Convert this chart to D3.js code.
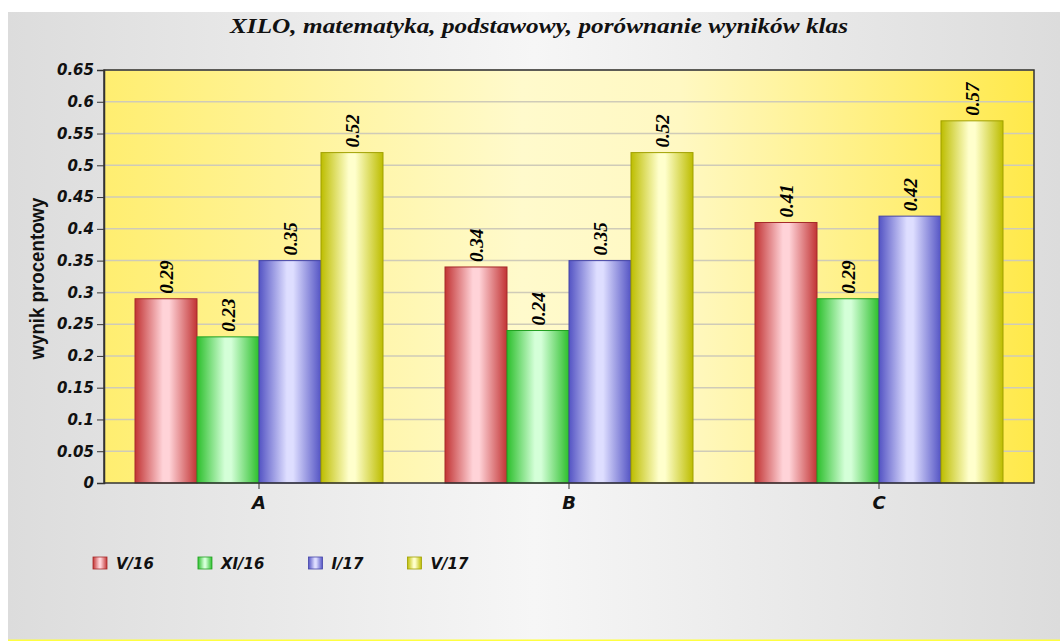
<!DOCTYPE html>
<html><head><meta charset="utf-8">
<script src="https://cdn.jsdelivr.net/npm/d3@7"></script>
<style>body{margin:0;background:#fff;} svg{display:block;}</style>
</head><body>
<svg id="c" width="1060" height="641"></svg>
<script>
const categories = ["A", "B", "C"];
const seriesNames = ["V/16", "XI/16", "I/17", "V/17"];
const valuesV16 = [0.29, 0.34, 0.41];
const valuesXI16 = [0.23, 0.24, 0.29];
const valuesI17 = [0.35, 0.35, 0.42];
const valuesV17 = [0.52, 0.52, 0.57];
const yTicks = [0, 0.05, 0.1, 0.15, 0.2, 0.25, 0.3, 0.35, 0.4, 0.45, 0.5, 0.55, 0.6, 0.65];
const titleText = "XILO, matematyka, podstawowy, porównanie wyników klas";
const yTitle = "wynik procentowy";

const series = [valuesV16, valuesXI16, valuesI17, valuesV17];
const colors = [
  {edge:"#c23434", mid:"#ffd3d8", stroke:"#a52a2a"},
  {edge:"#2cbf2c", mid:"#d4ffd8", stroke:"#22a022"},
  {edge:"#5454c4", mid:"#dedeff", stroke:"#4444a8"},
  {edge:"#bdbd00", mid:"#ffffcc", stroke:"#a0a000"}
];

const svg = d3.select("#c");
const defs = svg.append("defs");

const bg = defs.append("linearGradient").attr("id","bg").attr("x1","0").attr("x2","1").attr("y1","0").attr("y2","0");
bg.append("stop").attr("offset","0%").attr("stop-color","#dcdcdc");
bg.append("stop").attr("offset","50%").attr("stop-color","#f6f6f6");
bg.append("stop").attr("offset","100%").attr("stop-color","#dcdcdc");

const pg = defs.append("linearGradient").attr("id","plotbg").attr("x1","0").attr("x2","1").attr("y1","0").attr("y2","0");
pg.append("stop").attr("offset","0%").attr("stop-color","#ffee70");
pg.append("stop").attr("offset","45%").attr("stop-color","#fffacc");
pg.append("stop").attr("offset","62%").attr("stop-color","#fff8c2");
pg.append("stop").attr("offset","100%").attr("stop-color","#ffe94a");

colors.forEach((c,i)=>{
  const g = defs.append("linearGradient").attr("id","bar"+i).attr("x1","0").attr("x2","1").attr("y1","0").attr("y2","0");
  g.append("stop").attr("offset","0%").attr("stop-color",c.edge);
  g.append("stop").attr("offset","45%").attr("stop-color",c.mid);
  g.append("stop").attr("offset","55%").attr("stop-color",c.mid);
  g.append("stop").attr("offset","100%").attr("stop-color",c.edge);
});

svg.append("rect").attr("x",8).attr("y",12).attr("width",1052).attr("height",628).attr("fill","url(#bg)");
svg.append("rect").attr("x",8).attr("y",639.5).attr("width",1052).attr("height",2).attr("fill","#ffff40");

const L=104, R=1034, T=70, B=483;
const x0 = d3.scaleBand().domain(categories).range([L,R]).paddingInner(0.2).paddingOuter(0.1);
const x1 = d3.scaleBand().domain(d3.range(seriesNames.length)).range([0,x0.bandwidth()]);
const y = d3.scaleLinear().domain([0,0.65]).range([B,T]);

svg.append("rect").attr("x",L).attr("y",T).attr("width",R-L).attr("height",B-T).attr("fill","url(#plotbg)");

svg.append("g").selectAll("line").data(yTicks.slice(1)).join("line")
  .attr("x1",L).attr("x2",R).attr("y1",d=>y(d)).attr("y2",d=>y(d))
  .attr("stroke","#cfcbb8").attr("stroke-width",1.5);

const groups = svg.append("g").selectAll("g").data(categories).join("g")
  .attr("transform",d=>`translate(${x0(d)},0)`);
groups.each(function(cat,ci){
  const g = d3.select(this);
  series.forEach((vals,si)=>{
    const v = vals[ci];
    g.append("rect").attr("x",x1(si)).attr("y",y(v)).attr("width",x1.bandwidth()).attr("height",B-y(v))
      .attr("fill",`url(#bar${si})`).attr("stroke",colors[si].stroke).attr("stroke-width",1);
    const cx = x1(si)+x1.bandwidth()/2;
    g.append("text").attr("transform",`translate(${cx},${y(v)-5}) rotate(-90)`)
      .attr("dy","0.35em").attr("text-anchor","start")
      .attr("font-family","'Liberation Serif','Times New Roman',serif").attr("font-weight","bold").attr("font-style","italic")
      .attr("font-size",19).attr("fill","#000").text(v.toFixed(2));
  });
});

svg.append("rect").attr("x",L).attr("y",T).attr("width",R-L).attr("height",B-T)
  .attr("fill","none").attr("stroke","#333").attr("stroke-width",1.5);

const yAxis = svg.append("g").attr("transform",`translate(${L},0)`)
  .call(d3.axisLeft(y).tickValues(yTicks).tickSize(7).tickPadding(3).tickFormat(d=>String(+d.toFixed(2))));
yAxis.select(".domain").attr("stroke","#333").attr("stroke-width",1.5);
yAxis.selectAll(".tick line").attr("stroke","#333");
yAxis.selectAll("text").attr("font-family","'DejaVu Sans',Verdana,sans-serif").attr("font-weight","bold")
  .attr("font-style","italic").attr("font-size",15).attr("fill","#111");

const xAxis = svg.append("g").attr("transform",`translate(0,${B})`)
  .call(d3.axisBottom(x0).tickSize(6).tickPadding(7));
xAxis.select(".domain").remove();
xAxis.selectAll(".tick line").attr("stroke","#333");
xAxis.selectAll("text").attr("font-family","'DejaVu Sans',Verdana,sans-serif").attr("font-weight","bold")
  .attr("font-style","italic").attr("font-size",18).attr("fill","#111");

svg.append("text").attr("x",539).attr("y",33).attr("text-anchor","middle")
  .attr("font-family","'Liberation Serif','Times New Roman',serif").attr("font-weight","bold").attr("font-style","italic")
  .attr("font-size",20).attr("textLength",618).attr("lengthAdjust","spacingAndGlyphs")
  .attr("fill","#111").text(titleText);

svg.append("text").attr("transform",`translate(37,${(T+B)/2+2}) rotate(-90)`).attr("text-anchor","middle")
  .attr("dy","0.35em")
  .attr("font-family","'Liberation Sans',Arial,sans-serif").attr("font-weight","bold")
  .attr("font-size",21).attr("textLength",162).attr("lengthAdjust","spacingAndGlyphs")
  .attr("fill","#111").text(yTitle);

const leg = svg.append("g");
let lx = 93;
seriesNames.forEach((name,i)=>{
  leg.append("rect").attr("x",lx).attr("y",557).attr("width",14).attr("height",12)
    .attr("fill",`url(#bar${i})`).attr("stroke",colors[i].stroke).attr("stroke-width",0.8);
  const t = leg.append("text").attr("x",lx+23).attr("y",569)
    .attr("font-family","'DejaVu Sans',Verdana,sans-serif").attr("font-weight","bold").attr("font-style","italic")
    .attr("font-size",15).attr("fill","#111").text(name);
  lx += 23 + t.node().getComputedTextLength() + 44;
});
</script>
</body></html>
